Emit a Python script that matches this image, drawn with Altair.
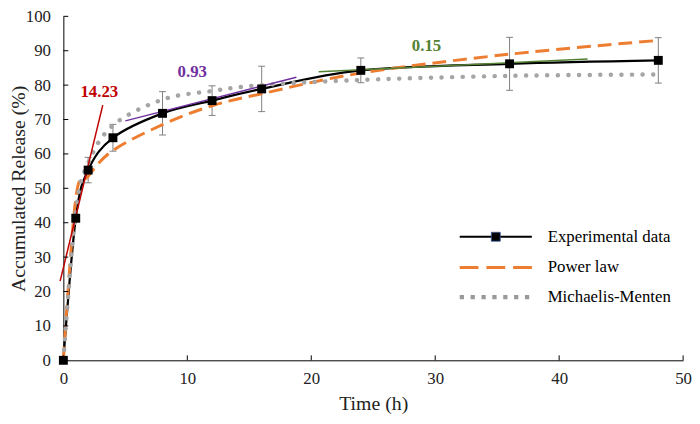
import altair as alt
import pandas as pd

# ---- data ----
time_h = [0, 1, 2, 4, 8, 12, 16, 24, 36, 48]
released = [0, 41.3, 55.3, 64.7, 71.8, 75.5, 78.9, 84.3, 86.2, 87.2]
release_sd = [0, 1.0, 3.7, 3.9, 6.3, 4.3, 6.6, 3.6, 7.7, 6.6]
power_law = [0, 47.0, 53.5, 61.0, 68.5, 74.0, 77.5, 83.5, 89.0, 93.0]
michaelis_menten = [0, 43.3, 57.3, 68.3, 75.8, 78.3, 80.0, 81.5, 82.7, 83.1]

tangent_names = ["initial", "middle", "late"]
tangent_x0 = [-0.26, 5.0, 20.6]
tangent_y0 = [23.0, 69.6, 83.9]
tangent_x1 = [3.18, 18.8, 42.3]
tangent_y1 = [74.2, 82.3, 87.6]
slope_labels = ["14.23", "0.93", "0.15"]
label_x = [2.9, 10.4, 29.3]
label_y = [78.0, 83.9, 91.4]
tangent_colors = ["#C00000", "#7030A0", "#548235"]

x_ticks = [0, 10, 20, 30, 40, 50]
y_ticks = [0, 10, 20, 30, 40, 50, 60, 70, 80, 90, 100]
legend_labels = ["Experimental data", "Power law", "Michaelis-Menten"]

SERIF = "Liberation Serif"
W, H = 627, 348

df = pd.DataFrame({"t": time_h, "rel": released, "sd": release_sd,
                   "pl": power_law, "mm": michaelis_menten})
df["lo"] = df["rel"] - df["sd"]
df["hi"] = df["rel"] + df["sd"]

tan = pd.DataFrame({"name": tangent_names, "x0": tangent_x0, "y0": tangent_y0,
                    "x1": tangent_x1, "y1": tangent_y1, "lab": slope_labels,
                    "lx": label_x, "ly": label_y})

xs = alt.Scale(domain=[0, 50], nice=False, zero=False)
ys = alt.Scale(domain=[0, 100], nice=False)
tcol = alt.Color("name:N", scale=alt.Scale(domain=tangent_names, range=tangent_colors), legend=None)

x_axis = alt.Axis(values=x_ticks, title="Time (h)", titlePadding=8,
                  labelPadding=10, labelFlush=False, labelOverlap=False)
y_axis = alt.Axis(values=y_ticks, title="Accumulated Release (%)",
                  labelPadding=13, labelOverlap=False, labelFlush=False,
                  titleX=-45.5, titleY=H / 2, titleBaseline="middle",
                  titleAlign="center", titleAngle=270)


def X(f):
    return alt.X(f, scale=xs, axis=x_axis)


def Y(f):
    return alt.Y(f, scale=ys, axis=y_axis)


base = alt.Chart(df)

lines_exp = base.mark_line(interpolate="cardinal", color="black", strokeWidth=2.25).encode(
    x=X("t:Q"), y=Y("rel:Q"))
lines_pl = base.mark_line(interpolate="cardinal", color="#ED7D31", strokeWidth=3, strokeDash=[14, 7]).encode(
    x=X("t:Q"), y=Y("pl:Q"))
lines_mm = base.mark_line(interpolate="cardinal", color="#A5A5A5", strokeWidth=4.5,
                          strokeDash=[0.1, 10.6], strokeCap="round").encode(
    x=X("t:Q"), y=Y("mm:Q"))

err = base.mark_rule(color="#7F7F7F", strokeWidth=1).encode(
    x=X("t:Q"), y=Y("lo:Q"), y2="hi:Q")
cap_lo = base.mark_tick(orient="horizontal", size=7, thickness=1, color="#7F7F7F", opacity=1).encode(
    x=X("t:Q"), y=Y("lo:Q"))
cap_hi = base.mark_tick(orient="horizontal", size=7, thickness=1, color="#7F7F7F", opacity=1).encode(
    x=X("t:Q"), y=Y("hi:Q"))
markers = base.mark_point(shape="square", filled=True, size=81, color="black", opacity=1).encode(
    x=X("t:Q"), y=Y("rel:Q"))

tangents = alt.Chart(tan).mark_rule(strokeWidth=1.5).encode(
    x=X("x0:Q"), y=Y("y0:Q"), x2="x1:Q", y2="y1:Q", color=tcol)
slope_text = alt.Chart(tan).mark_text(font=SERIF, fontSize=17, fontWeight="bold").encode(
    x=X("lx:Q"), y=Y("ly:Q"), text="lab:N", color=tcol)

# inward tick marks
yt = alt.Chart(pd.DataFrame({"v": y_ticks})).mark_rule(color="black", strokeWidth=1).encode(
    y=Y("v:Q"), x=alt.value(0), x2=alt.value(5))
xt = alt.Chart(pd.DataFrame({"v": x_ticks})).mark_rule(color="black", strokeWidth=1).encode(
    x=X("v:Q"), y=alt.value(H), y2=alt.value(H - 5))

# legend (drawn inside plot)
one = pd.DataFrame({"k": [0]})
LX0, LX1, LT = 401, 474, 490
rows = [223, 254, 284]
leg = []
leg.append(alt.Chart(one).mark_rule(color="black", strokeWidth=2.25).encode(
    x=alt.value(LX0), x2=alt.value(LX1), y=alt.value(rows[0])))
leg.append(alt.Chart(one).mark_point(shape="square", filled=True, size=81, color="black", opacity=1,
                                     stroke="#2F5597", strokeWidth=0.8).encode(
    x=alt.value((LX0 + LX1) / 2), y=alt.value(rows[0])))
leg.append(alt.Chart(one).mark_rule(color="#ED7D31", strokeWidth=3, strokeDash=[19, 8]).encode(
    x=alt.value(LX0), x2=alt.value(LX1), y=alt.value(rows[1])))
leg.append(alt.Chart(one).mark_rule(color="#999999", strokeWidth=4.3, strokeDash=[4.3, 6.7]).encode(
    x=alt.value(LX0), x2=alt.value(LX1), y=alt.value(rows[2])))
for lab, ry in zip(legend_labels, rows):
    leg.append(alt.Chart(one).mark_text(font=SERIF, fontSize=17, align="left", baseline="middle",
                                        color="black").encode(
        x=alt.value(LT), y=alt.value(ry), text=alt.value(lab)))

chart = alt.layer(
    lines_exp, err, cap_lo, cap_hi, lines_pl, lines_mm, tangents, markers, slope_text, yt, xt, *leg
).properties(
    width=W, height=H,
    padding={"left": 56, "top": 6, "right": 9, "bottom": 62},
    autosize=alt.AutoSizeParams(type="none"),
).configure_view(stroke=None).configure_axis(
    grid=False, tickSize=0, domainColor="black", domainWidth=1,
    labelOverlap=False, labelFlush=False,
    labelFont=SERIF, labelFontSize=17, labelColor="#222222",
    titleFont=SERIF, titleFontSize=20, titleFontWeight="normal", titleColor="#222222",
)

chart.save("out.html", embed_options={"renderer": "svg", "actions": False})
